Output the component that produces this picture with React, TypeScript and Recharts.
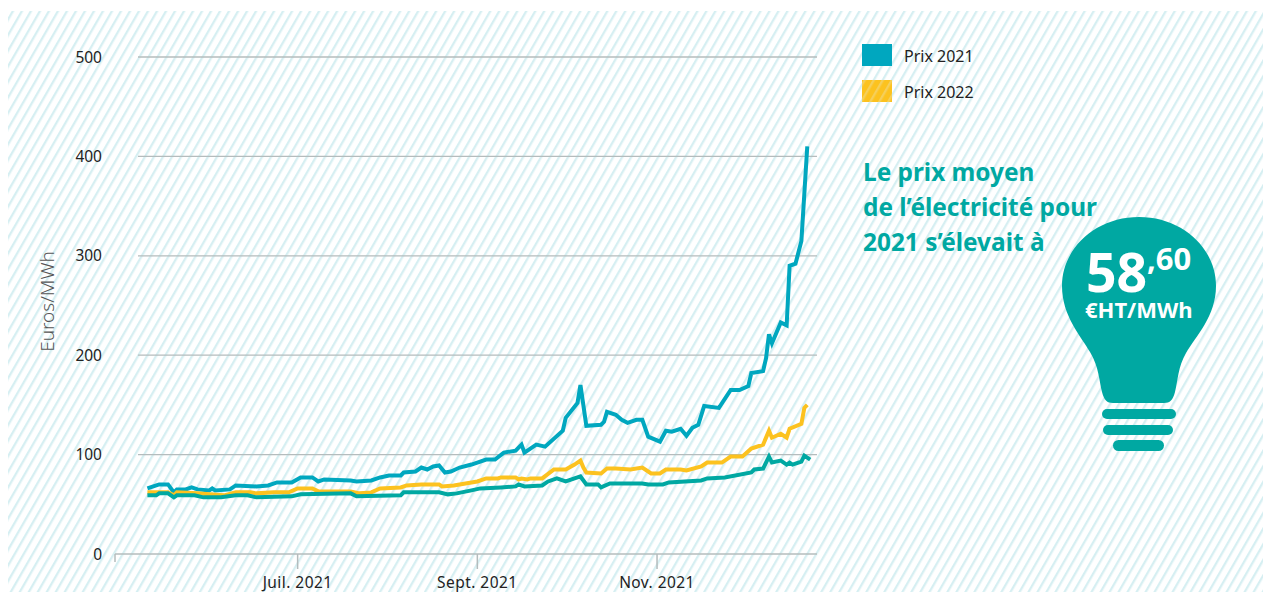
import React from 'react';
import { LineChart, Line, XAxis, YAxis, ReferenceLine } from 'recharts';

const FONT = '"Noto Sans", sans-serif';
const BLUE = '#00a7bf';
const YELLOW = '#fcc21f';
const GREEN = '#00a8a2';
const GRID = '#b4bcbd';

// x = days since 1 May 2021
const blueDays = [11,13,15,18,20,21,24,26,28,32,33,34,39,41,48,52,55,60,63,67,69,71,80,82,87,90,93,97,98,102,104,106,108,110,112,114,117,121,123,126,129,132,136,137,138,139,143,146,152,153,157,158,160,165,166,167,170,172,174,177,179,181,185,187,189,192,194,196,198,200,205,209,212,215,216,220,221,222,223,226,228,229,231,233,235];
const blueValues = [66,68,70,70,62,65,65,67,65,64,66,64,65,69,68,69,72,72,77,77,73,75,74,73,74,77,79,79,82,83,87,85,88,89,82,83,87,90,92,95,95,102,104,107,110,102,110,108,124,137,152,170,129,130,133,143,140,135,132,135,135,118,113,124,123,126,119,127,130,149,147,165,165,169,182,184,197,221,212,233,230,290,292,315,410];
const yellowDays = [11,14,18,20,21,28,32,37,41,46,48,54,59,62,67,69,80,83,87,90,97,99,104,110,111,115,121,123,126,130,131,136,137,138,140,141,145,149,153,156,158,159,160,165,167,170,175,179,182,185,187,192,194,199,201,206,209,213,216,220,222,223,226,228,229,233,234,235];
const yellowValues = [62,62,62,59,62,61,60,59,62,62,61,62,62,66,66,63,63,61,62,66,67,69,70,70,68,69,72,73,76,76,77,77,75,76,75,76,76,85,85,90,94,87,82,81,86,86,85,87,81,81,85,85,84,88,92,92,98,98,106,110,124,117,121,117,126,131,147,150];
const greenDays = [11,14,15,18,20,21,27,30,36,41,45,48,60,63,80,82,97,98,110,113,116,121,124,131,136,137,139,145,147,150,153,158,160,164,165,168,179,181,186,188,199,201,207,216,217,220,222,223,226,228,229,230,233,234,236];
const greenValues = [59,59,61,61,57,59,59,57,57,59,59,57,58,60,61,58,59,62,62,60,61,64,66,67,68,70,68,69,73,76,73,78,70,70,67,71,71,70,70,72,74,76,77,82,85,86,98,92,94,90,92,90,93,99,95];

const pairs = (days: number[], values: number[]) => days.map((day, i) => ({ day, value: values[i] }));

const yTicks = [0, 100, 200, 300, 400, 500];
const gridValues = [100, 200, 300, 400, 500];
const xTicks = [0, 62, 123, 184];
const xLabels: Record<number, string> = { 62: 'Juil. 2021', 123: 'Sept. 2021', 184: 'Nov. 2021' };
const legendItems = [
  { name: 'Prix 2021', color: BLUE },
  { name: 'Prix 2022', color: YELLOW },
];
const headline = ['Le prix moyen', 'de l’électricité pour', '2021 s’élevait à'];

const XTick = (props: any) => {
  const { x, y, payload } = props;
  const label = xLabels[payload.value];
  return (
    <g>
      <line x1={x} x2={x} y1={y} y2={y + (label ? 15 : 8)} stroke={GRID} strokeWidth={1.5} />
      {label && (
        <text x={x} y={y + 34} textAnchor="middle" fontFamily={FONT} fontSize={15.5} letterSpacing={0.45} fill="#222">
          {label}
        </text>
      )}
    </g>
  );
};

export default function App() {
  return (
    <div style={{ position: 'absolute', left: 0, top: 0, width: 1263, height: 592, overflow: 'hidden', background: '#fff' }}>
      <svg width={1263} height={592} style={{ position: 'absolute', left: 0, top: 0 }}>
        <defs>
          <pattern id="hatch" width={7.8} height={7.8} patternUnits="userSpaceOnUse" patternTransform="rotate(30)">
            <rect x={0} y={0} width={2.3} height={7.8} fill="#d6eff2" />
          </pattern>
          <pattern id="hatch2" width={7.8} height={7.8} patternUnits="userSpaceOnUse" patternTransform="rotate(30)">
            <rect x={0} y={0} width={2.3} height={7.8} fill="#f5cf5a" />
          </pattern>
        </defs>
        <rect x={8} y={11} width={1255} height={581} fill="url(#hatch)" />
      </svg>
      <div style={{ position: 'absolute', left: 0, top: 0 }}>
        <LineChart width={1263} height={592} margin={{ left: 0, right: 446, top: 57, bottom: 0 }}>
          <XAxis
            type="number"
            dataKey="day"
            domain={[0, 238.3]}
            ticks={xTicks}
            interval={0}
            height={38}
            axisLine={{ stroke: GRID, strokeWidth: 1.5 }}
            tickLine={false}
            tickSize={0}
            tickMargin={0}
            tick={<XTick />}
          />
          <YAxis
            type="number"
            domain={[0, 500]}
            ticks={yTicks}
            interval={0}
            width={115}
            axisLine={false}
            tickLine={false}
            tickSize={0}
            tickMargin={13}
            tick={{ fontFamily: FONT, fontSize: 15.5, fill: '#222' }}
            label={{ value: 'Euros/MWh', angle: -90, position: 'insideLeft', offset: 47, dy: -4, style: { fontFamily: FONT, fontSize: 19, fontWeight: 300, fill: '#555', textAnchor: 'middle' } }}
          />
          {gridValues.map((v) => (
            <ReferenceLine key={v} segment={[{ x: 7.8, y: v }, { x: 238.3, y: v }]} stroke={GRID} strokeWidth={1.3} />
          ))}
          <Line data={pairs(blueDays, blueValues)} dataKey="value" name="Prix 2021" stroke={BLUE} strokeWidth={4} dot={false} isAnimationActive={false} type="linear" />
          <Line data={pairs(yellowDays, yellowValues)} dataKey="value" name="Prix 2022" stroke={YELLOW} strokeWidth={4} dot={false} isAnimationActive={false} type="linear" />
          <Line data={pairs(greenDays, greenValues)} dataKey="value" name="Prix moyen" stroke={GREEN} strokeWidth={4} dot={false} isAnimationActive={false} type="linear" />
        </LineChart>
      </div>
      <svg width={1263} height={592} style={{ position: 'absolute', left: 0, top: 0, pointerEvents: 'none' }}>
        {legendItems.map((item, i) => (
          <g key={item.name}>
            <rect x={862} y={44 + i * 36} width={30} height={22} fill={item.color} />
            {i === 1 && <rect x={862} y={44 + i * 36} width={30} height={22} fill="url(#hatch2)" />}
            <text x={904} y={62 + i * 36} fontFamily={FONT} fontSize={16} fill="#222">{item.name}</text>
          </g>
        ))}
        {headline.map((line, i) => (
          <text key={line} x={863} y={181 + i * 35} fontFamily={FONT} fontWeight={700} fontSize={24.4} fill={GREEN}>{line}</text>
        ))}
        <path
          d="M1139 217 C1182 217 1216 248 1216 286 C1216 316 1196 336 1186 353 C1178 367 1178 380 1175 392 C1173 400 1170 403 1164 403 L1113 403 C1107 403 1104 400 1102 392 C1099 380 1099 367 1090 352 C1081 336 1062 316 1062 286 C1062 248 1096 217 1139 217 Z"
          fill={GREEN}
        />
        <rect x={1102} y={409} width={74} height={10} rx={5} fill={GREEN} />
        <rect x={1103} y={425} width={70} height={10} rx={5} fill={GREEN} />
        <rect x={1113} y={440} width={51} height={11} rx={5.5} fill={GREEN} />
        <text x={1086} y={292} fontFamily={FONT} fontWeight={700} fontSize={53.5} fill="#fff">58</text>
        <text x={1147} y={270} fontFamily={FONT} fontWeight={700} fontSize={31} fill="#fff">,60</text>
        <text x={1085} y={318} fontFamily={FONT} fontWeight={700} fontSize={22} fill="#fff">€HT/MWh</text>
      </svg>
    </div>
  );
}
